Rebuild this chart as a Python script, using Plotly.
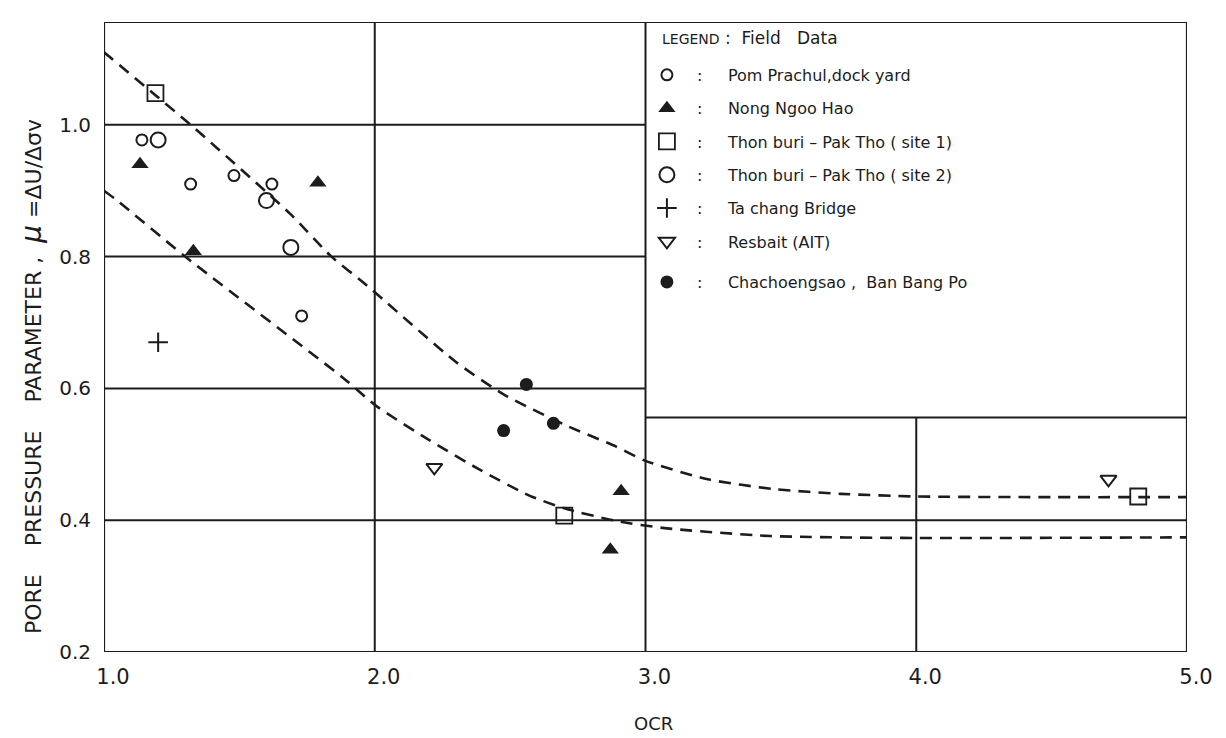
import plotly.graph_objects as go

# ---------------- data ----------------
pom_x = [1.14, 1.32, 1.48, 1.62, 1.73]
pom_y = [0.977, 0.91, 0.923, 0.91, 0.71]

nong_x = [1.133, 1.33, 1.79, 2.91, 2.87]
nong_y = [0.94, 0.808, 0.912, 0.444, 0.355]

site1_x = [1.19, 2.70, 4.82]
site1_y = [1.048, 0.407, 0.436]

site2_x = [1.20, 1.60, 1.69]
site2_y = [0.977, 0.885, 0.814]

tachang_x = [1.20]
tachang_y = [0.67]

resbait_x = [2.22, 4.71]
resbait_y = [0.48, 0.462]

chach_x = [2.56, 2.476, 2.66]
chach_y = [0.606, 0.536, 0.547]

upper_x = [1.0, 1.03, 1.19, 1.32, 1.69, 1.84, 1.96, 2.30, 2.476, 2.70, 2.89, 3.0, 3.23, 3.48, 3.72, 4.0, 4.5, 5.0]
upper_y = [1.11, 1.10, 1.045, 1.0, 0.864, 0.80, 0.76, 0.64, 0.591, 0.545, 0.512, 0.49, 0.462, 0.447, 0.44, 0.436, 0.435, 0.435]

lower_x = [1.0, 1.046, 1.30, 1.88, 2.01, 2.20, 2.386, 2.573, 2.70, 2.89, 3.07, 3.46, 4.0, 5.0]
lower_y = [0.90, 0.886, 0.80, 0.617, 0.572, 0.522, 0.477, 0.437, 0.418, 0.399, 0.388, 0.376, 0.373, 0.374]

x_ticks = [1.0, 2.0, 3.0, 4.0, 5.0]
x_ticklabels = ["1.0", "2.0", "3.0", "4.0", "5.0"]
y_ticks = [0.2, 0.4, 0.6, 0.8, 1.0]
y_ticklabels = ["0.2", "0.4", "0.6", "0.8", "1.0"]

legend_names = [
    "Pom Prachul,dock yard",
    "Nong Ngoo Hao",
    "Thon buri \u2013 Pak Tho ( site 1)",
    "Thon buri \u2013 Pak Tho ( site 2)",
    "Ta chang Bridge",
    "Resbait (AIT)",
    "Chachoengsao ,  Ban Bang Po",
]

# ---------------- styling ----------------
INK = "#1c1c1c"
FONT = "DejaVu Sans"
XMIN, XMAX, YMIN, YMAX = 1.0, 5.0, 0.2, 1.156
LEG_BOTTOM = 0.556
NB = "\u00a0"

fig = go.Figure()

# dashed envelope curves
for cx, cy in [(upper_x, upper_y), (lower_x, lower_y)]:
    fig.add_trace(go.Scatter(
        x=cx, y=cy, mode="lines", showlegend=False, hoverinfo="skip",
        line=dict(color=INK, width=2.6, dash="12px,8px", shape="spline", smoothing=0.6),
    ))

def lname(s):
    return NB * 2 + ":" + NB * 5 + s.replace(" ", NB)

series = [
    (pom_x, pom_y, dict(symbol="circle-open", size=11, line=dict(width=2, color=INK))),
    (nong_x, nong_y, dict(symbol="triangle-up", size=15, line=dict(width=0))),
    (site1_x, site1_y, dict(symbol="square-open", size=16, line=dict(width=1.8, color=INK))),
    (site2_x, site2_y, dict(symbol="circle-open", size=15, line=dict(width=2, color=INK))),
    (tachang_x, tachang_y, dict(symbol="cross-thin-open", size=14, line=dict(width=2, color=INK))),
    (resbait_x, resbait_y, dict(symbol="triangle-down-open", size=14, line=dict(width=2, color=INK))),
    (chach_x, chach_y, dict(symbol="circle", size=13, line=dict(width=0))),
]
n = len(series)
for i, ((sx, sy, mk), nm) in enumerate(zip(series, legend_names)):
    mk = dict(mk)
    mk["color"] = INK
    fig.add_trace(go.Scatter(
        x=sx, y=sy, mode="markers", name=lname(nm), legendgroup="g%d" % i,
        legend="legend2" if i == n - 1 else "legend",
        marker=mk,
    ))

# grid lines (partial, as in the original drawing) and legend frame
lines = [
    (2.0, YMIN, 2.0, YMAX),
    (3.0, YMIN, 3.0, YMAX),
    (4.0, YMIN, 4.0, LEG_BOTTOM),
    (XMIN, 0.4, XMAX, 0.4),
    (XMIN, 0.6, 3.0, 0.6),
    (XMIN, 0.8, 3.0, 0.8),
    (XMIN, 1.0, 3.0, 1.0),
    (3.0, LEG_BOTTOM, XMAX, LEG_BOTTOM),
]
for x0, y0, x1, y1 in lines:
    fig.add_shape(type="line", x0=x0, y0=y0, x1=x1, y1=y1, xref="x", yref="y",
                  line=dict(color=INK, width=2), layer="below")
fig.add_shape(type="rect", x0=XMIN, y0=YMIN, x1=XMAX, y1=YMAX, xref="x", yref="y",
              line=dict(color=INK, width=2.2), layer="above")

legend_common = dict(
    xanchor="left", yanchor="top",
    bgcolor="rgba(0,0,0,0)", borderwidth=0,
    font=dict(family=FONT, size=16, color=INK),
    tracegroupgap=9.5, itemsizing="trace",
)

ytitle = ("PORE" + NB * 4 + "PRESSURE" + NB * 4 + "PARAMETER" + NB + "," + NB * 2
          + "<span style='font-size:28px'><i>\u03bc</i></span>" + NB + "=\u0394U/\u0394\u03c3v")

fig.update_layout(
    width=1218, height=730,
    margin=dict(l=96, r=39, t=14, b=86),
    paper_bgcolor="white", plot_bgcolor="white",
    font=dict(family=FONT, color=INK, size=16),
    showlegend=True,
    legend=dict(x=0.5013, y=0.9429, **legend_common),
    legend2=dict(x=0.5013, y=0.6142, **legend_common),
    xaxis=dict(range=[XMIN, XMAX], tickvals=x_ticks, ticktext=x_ticklabels,
               showgrid=False, zeroline=False, showline=False, ticks="",
               tickfont=dict(family=FONT, size=21, color=INK),
               ticklabelstandoff=10, ticklabelshift=9),
    yaxis=dict(range=[YMIN, YMAX], tickvals=y_ticks, ticktext=y_ticklabels,
               showgrid=False, zeroline=False, showline=False, ticks="",
               tickfont=dict(family=FONT, size=20, color=INK),
               ticklabelstandoff=12),
    annotations=[
        dict(text="<span style='font-size:14px'>LEGEND</span>" + NB + ":" + NB * 2 + "Field" + NB * 3 + "Data",
             xref="paper", yref="paper", x=0.5134, y=0.9746, xanchor="left", yanchor="middle",
             showarrow=False, font=dict(family=FONT, size=17, color=INK)),
        dict(text=ytitle,
             xref="paper", yref="paper", x=-0.0674, y=0.4365, textangle=-90,
             showarrow=False, font=dict(family=FONT, size=22, color=INK),
             xanchor="center", yanchor="middle"),
        dict(text="OCR", xref="paper", yref="paper", x=0.507, y=-0.113,
             showarrow=False, font=dict(family=FONT, size=18, color=INK),
             xanchor="center", yanchor="middle"),
    ],
)

fig.write_html("out.html")
